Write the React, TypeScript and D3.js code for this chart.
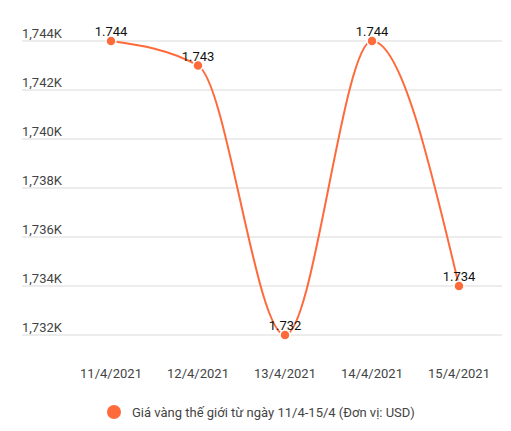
import * as d3 from "d3";

const dates = ["11/4/2021", "12/4/2021", "13/4/2021", "14/4/2021", "15/4/2021"];
const prices = [1744, 1743, 1732, 1744, 1734];
const yTicks = [1732, 1734, 1736, 1738, 1740, 1742, 1744];
const legendLabel = "Giá vàng thế giới từ ngày 11/4-15/4 (Đơn vị: USD)";

const W = 511;
const H = 431;
const ORANGE = "#ff6a3b";
const FONT = "Roboto, Arial, sans-serif";

export default function App() {
  const x = d3.scaleBand<string>().domain(dates).range([67.5, 502.5]);
  const y = d3.scaleLinear().domain([1732, 1744]).range([335, 41]);

  const pts = dates.map((d, i) => ({ d, v: prices[i] }));
  const line = d3
    .line<{ d: string; v: number }>()
    .x((p) => x(p.d)! + x.bandwidth() / 2)
    .y((p) => y(p.v))
    .curve(d3.curveMonotoneX);

  return (
    <svg
      width={W}
      height={H}
      style={{ position: "absolute", left: 0, top: 0, background: "#fff" }}
      fontFamily={FONT}
    >
      {/* grid + y labels */}
      {yTicks.map((t) => (
        <g key={t}>
          <line x1={22} x2={502} y1={y(t)} y2={y(t)} stroke="#d9d9d9" strokeWidth={1} />
          <text x={22} y={y(t) - 3} fontSize={13} fill="#444">
            {d3.format(",")(t) + "K"}
          </text>
        </g>
      ))}

      {/* x labels */}
      {dates.map((d) => (
        <text
          key={d}
          x={x(d)! + x.bandwidth() / 2}
          y={378}
          fontSize={13}
          fill="#444"
          textAnchor="middle"
        >
          {d}
        </text>
      ))}

      <path d={line(pts) ?? ""} fill="none" stroke={ORANGE} strokeWidth={2} />

      {pts.map((p) => (
        <g key={p.d}>
          <circle
            cx={x(p.d)! + x.bandwidth() / 2}
            cy={y(p.v)}
            r={5}
            fill={ORANGE}
            stroke="#fff"
            strokeWidth={1.5}
          />
          <text
            x={x(p.d)! + x.bandwidth() / 2}
            y={y(p.v) - 5}
            fontSize={13}
            fill="#111"
            textAnchor="middle"
          >
            {d3.format(".3f")(p.v / 1000)}
          </text>
        </g>
      ))}

      {/* legend */}
      <circle cx={114} cy={412} r={7} fill={ORANGE} />
      <text x={132} y={416.5} fontSize={13} fill="#444">
        {legendLabel}
      </text>
    </svg>
  );
}
